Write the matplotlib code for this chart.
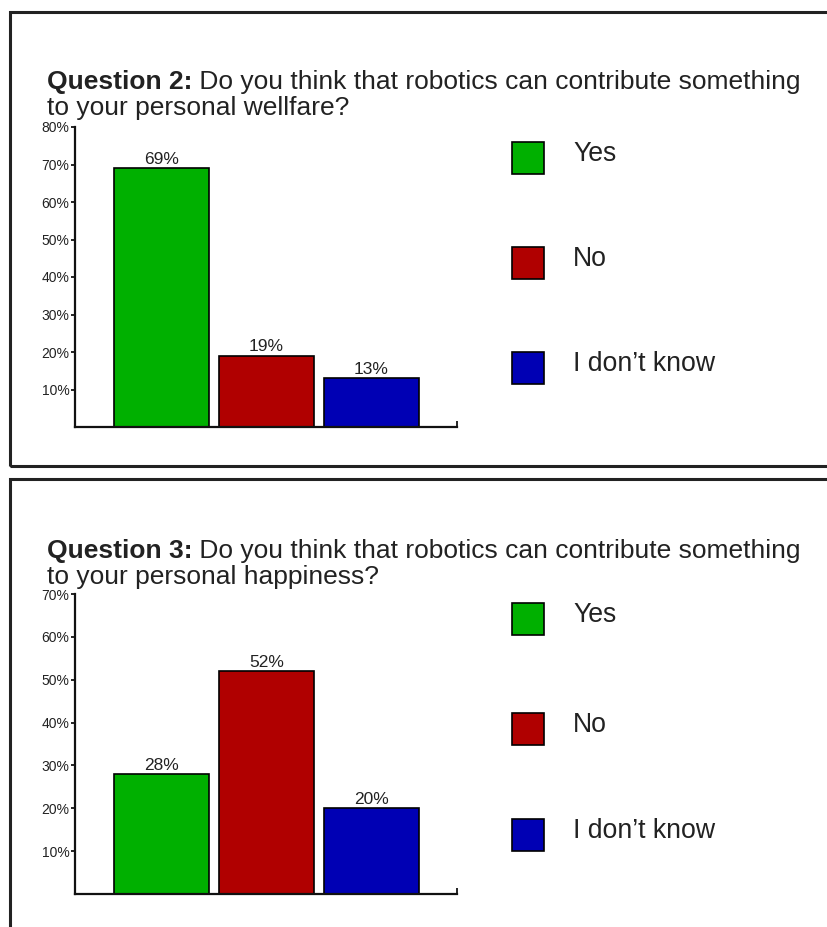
import matplotlib
matplotlib.use("Agg")
import matplotlib.pyplot as plt
from matplotlib.patches import Rectangle

plt.rcParams["font.family"] = ["Liberation Sans", "DejaVu Sans"]

W, H = 827, 927

categories = ["Yes", "No", "I don\u2019t know"]
colors = ["#00b000", "#b00000", "#0000b4"]

q2_head = "Question 2:"
q2_text = ["Do you think that robotics can contribute something",
           "to your personal wellfare?"]
q2_values = [69, 19, 13]
q2_ticks = [10, 20, 30, 40, 50, 60, 70, 80]

q3_head = "Question 3:"
q3_text = ["Do you think that robotics can contribute something",
           "to your personal happiness?"]
q3_values = [28, 52, 20]
q3_ticks = [10, 20, 30, 40, 50, 60, 70]

fig = plt.figure(figsize=(W / 100, H / 100), dpi=100)

TXT = "#222222"
TITLE_FS = 19


def px(x, y):
    # pixel coords (from top-left) -> figure fraction
    return x / W, 1 - y / H


def panel(box_top, box_bottom, head, text, base1, base2,
          ax_top, ax_bottom, values, ticks, legend_y):
    # frame
    x0, y0 = px(10, box_bottom)
    x1, y1 = px(845, box_top)
    fig.add_artist(Rectangle((x0, y0), x1 - x0, y1 - y0, transform=fig.transFigure,
                             fill=False, lw=2.2, ec=TXT, clip_on=False))

    # bars
    l, b = px(75, ax_bottom)
    _, t = px(75, ax_top)
    ax = fig.add_axes([l, b, 382 / W, t - b])
    x = list(range(len(values)))
    bars = ax.bar(x, values, width=0.905, color=colors, edgecolor="black", lw=1.2)
    ax.bar_label(bars, labels=[f"{v}%" for v in values], padding=1,
                 fontsize=12.5, color=TXT)
    ax.set_xlim(-0.824, 2.814)
    ax.set_ylim(0, ticks[-1])
    ax.set_yticks(ticks)
    ax.set_yticklabels([f"{v}%" for v in ticks])
    ax.set_xticks([])
    ax.set_yticks([ticks[-1]], minor=True)
    ax.set_xticks([2.814], minor=True)
    ax.tick_params(axis="y", which="major", direction="out", length=3, width=1.2,
                   pad=1, labelsize=10, labelcolor=TXT)
    ax.tick_params(axis="both", which="minor", direction="in", length=4, width=1.2)
    ax.tick_params(axis="x", which="minor", labelbottom=False)
    ax.tick_params(axis="y", which="minor", labelleft=False)
    for s in ["top", "right"]:
        ax.spines[s].set_visible(False)
    for s in ["left", "bottom"]:
        ax.spines[s].set_linewidth(1.6)
        ax.spines[s].set_color("#111111")

    # title: bold head followed by regular text on the same line
    tx, ty = px(47, base1)
    t1 = fig.text(tx, ty, head, fontsize=TITLE_FS, fontweight="bold", color=TXT,
                  va="bottom")
    ax.annotate(" " + text[0], xy=(1, 0), xycoords=t1, fontsize=TITLE_FS,
                color=TXT, va="bottom", ha="left", annotation_clip=False)
    tx2, ty2 = px(47, base2)
    fig.text(tx2, ty2, text[1], fontsize=TITLE_FS, color=TXT, va="baseline")

    # legend
    for cat, col, yc in zip(categories, colors, legend_y):
        sx, sy = px(512, yc + 16)
        fig.add_artist(Rectangle((sx, sy), 32 / W, 32 / H, transform=fig.transFigure,
                                 fc=col, ec="black", lw=1.2))
        lx, ly = px(573, yc - 4)
        fig.text(lx, ly, cat, fontsize=19.2, color=TXT, va="center")
    return ax


panel(12, 466, q2_head, q2_text, 94, 115, 127, 427, q2_values, q2_ticks,
      [158, 263, 368])
panel(479, 945, q3_head, q3_text, 563, 584, 594, 894, q3_values, q3_ticks,
      [619, 729, 835])

fig.savefig("out.png", dpi=100)
